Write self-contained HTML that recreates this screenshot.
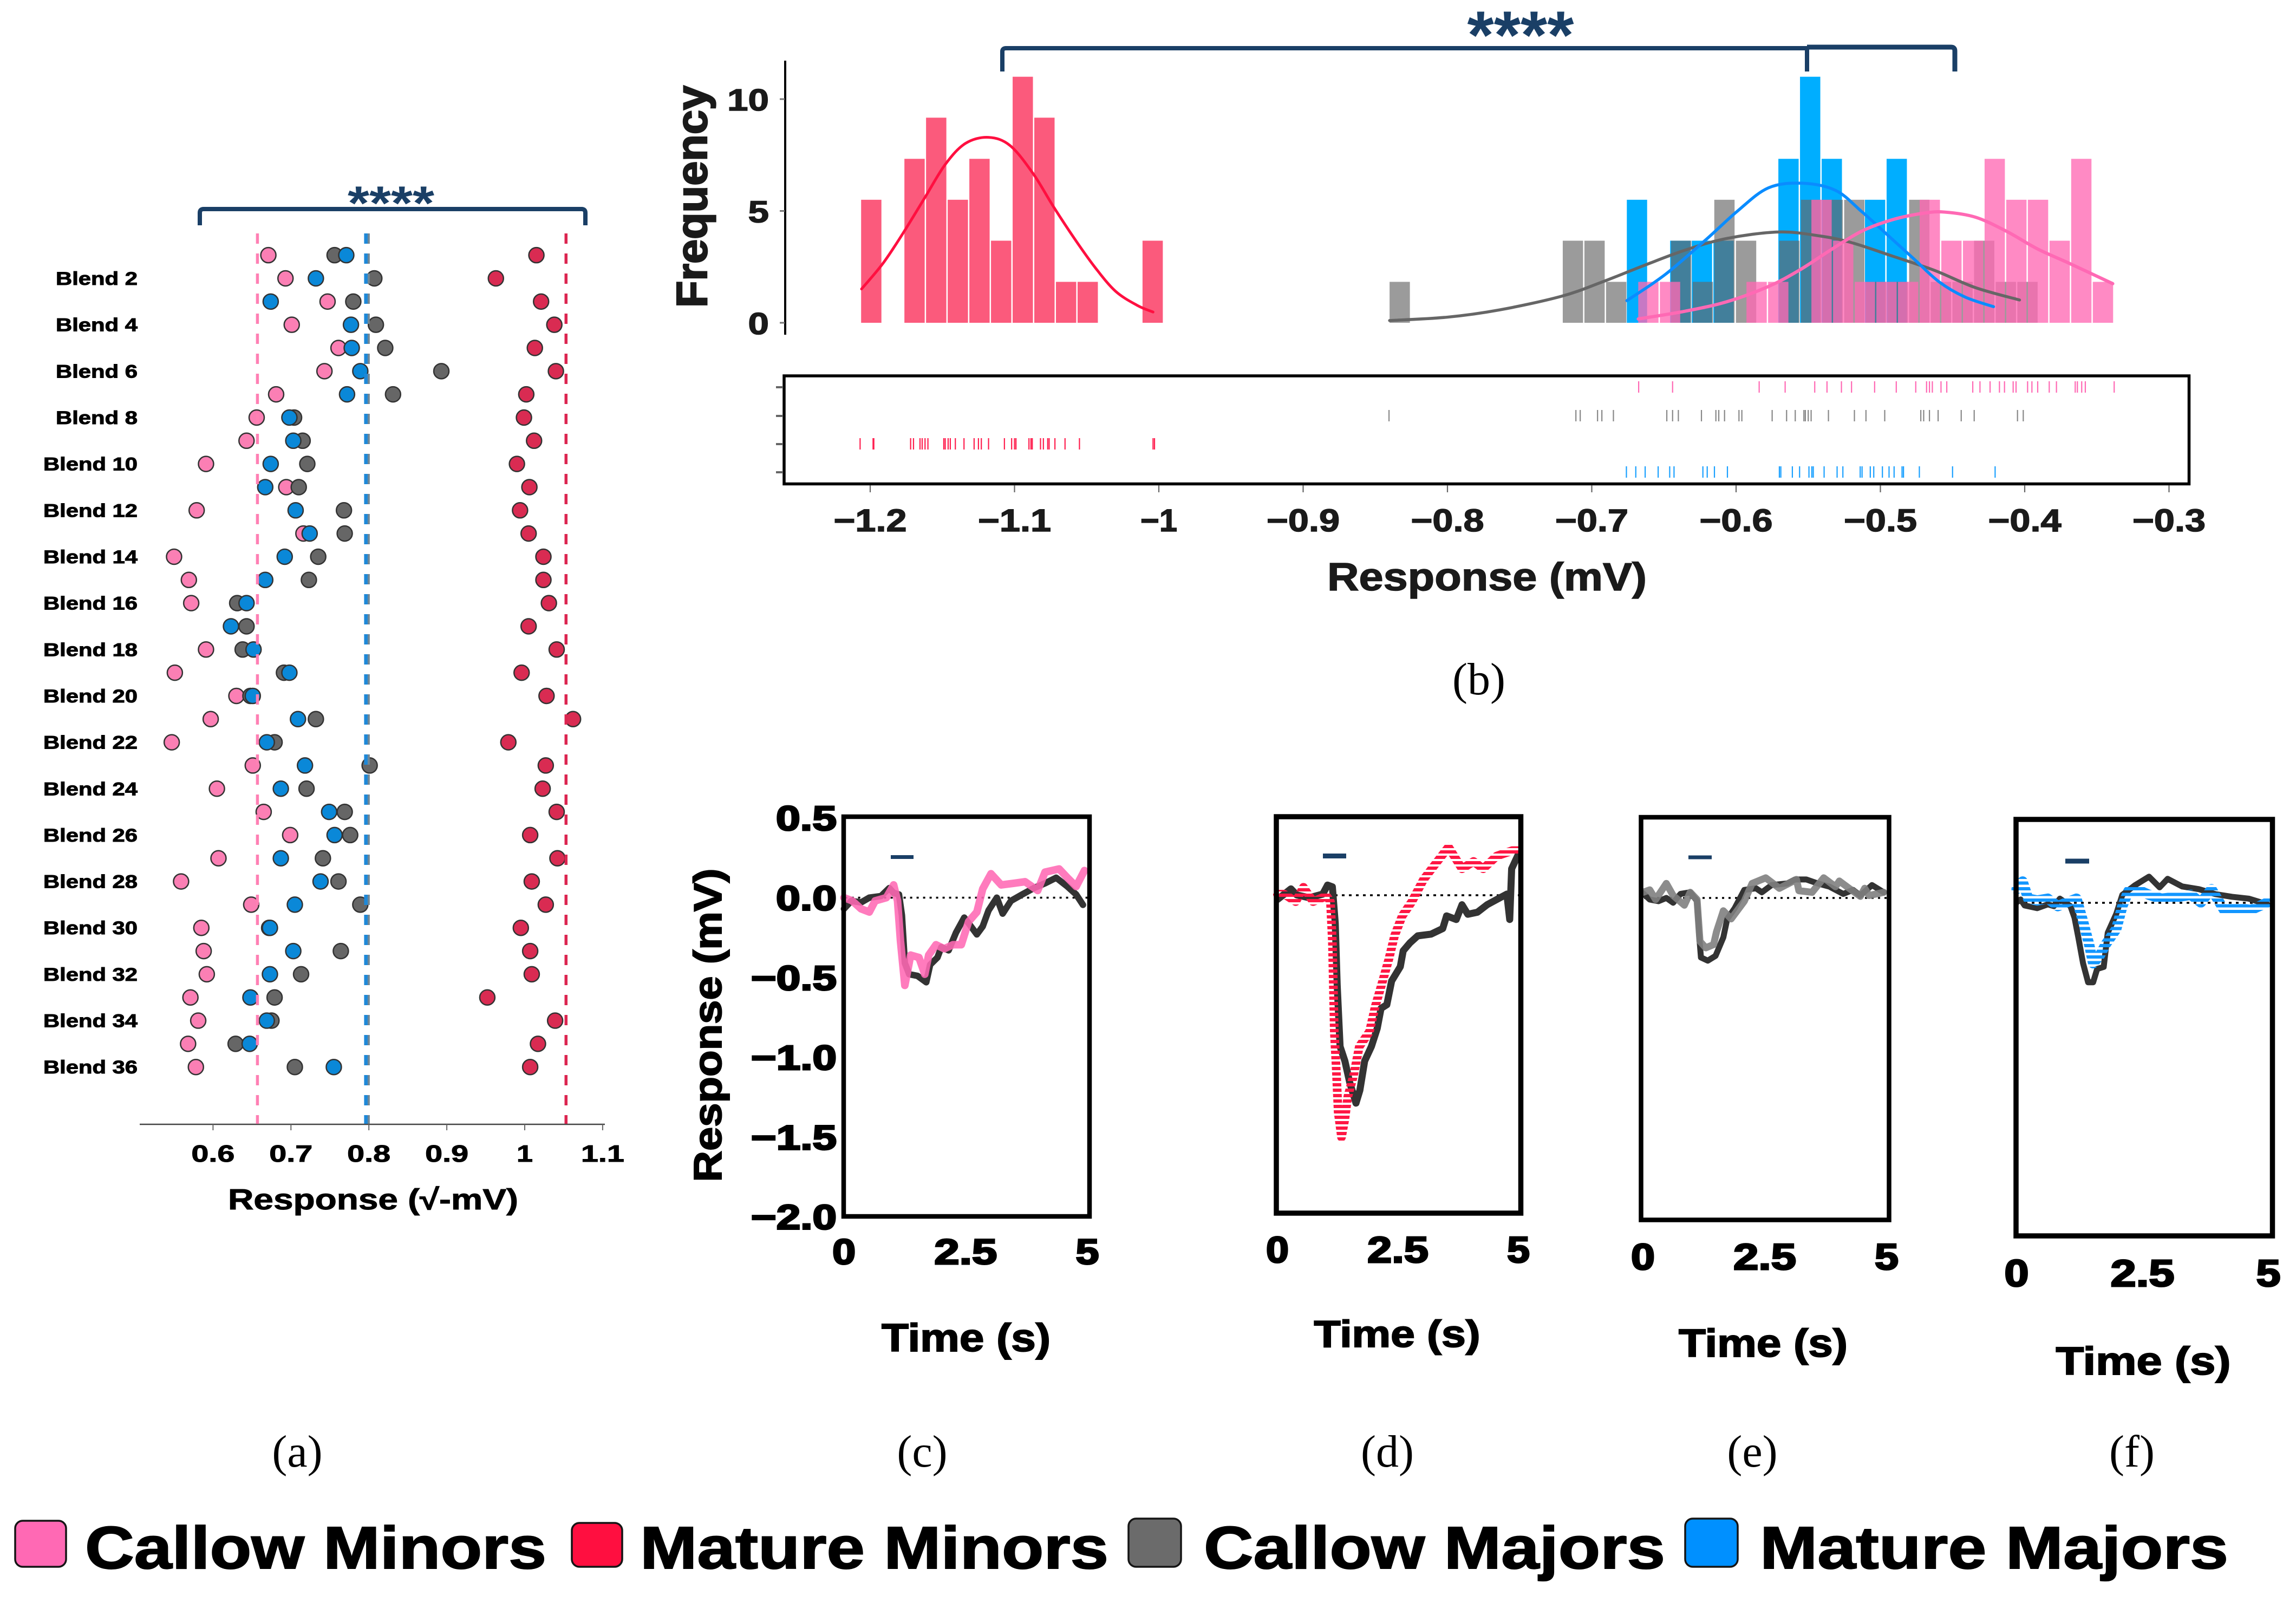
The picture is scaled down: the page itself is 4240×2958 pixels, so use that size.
<!DOCTYPE html>
<html lang="en">
<head>
<meta charset="utf-8">
<title>Response panels</title>
<style>
html,body{margin:0;padding:0;background:#fff;}
svg{display:block;}
text{font-family:"Liberation Sans",sans-serif;font-weight:bold;}
.serif{font-family:"Liberation Serif",serif;font-weight:normal;}
</style>
</head>
<body>
<svg id="fig" xmlns="http://www.w3.org/2000/svg" width="4240" height="2958" viewBox="0 0 4240 2958">
<defs>
<pattern id="stripes-red" patternUnits="userSpaceOnUse" width="10" height="10"><rect width="10" height="6" fill="#ff1744"/></pattern>
<pattern id="stripes-blue" patternUnits="userSpaceOnUse" width="10" height="10.5"><rect width="10" height="6" fill="#1296ff"/></pattern>
</defs>
<rect width="4240" height="2958" fill="#fff"/>
<g id="panel-a"></g>
<g id="panel-b"></g>
<g id="panel-c"></g>
<g id="panel-d"></g>
<g id="panel-e"></g>
<g id="panel-f"></g>

<path d="M369 416 L369 393 Q369 386 376 386 L1074 386 Q1081 386 1081 393 L1081 416" fill="none" stroke="#1a3f66" stroke-width="8"/>
<text x="722" y="405" font-size="88" text-anchor="middle" textLength="160" lengthAdjust="spacingAndGlyphs" fill="#1a3f66">****</text>
<text x="689" y="2233" font-size="54" text-anchor="middle" textLength="536" lengthAdjust="spacingAndGlyphs" fill="#000" stroke="#000" stroke-width="1">Response (√-mV)</text>

<path d="M1851 132 L1851 95 Q1851 89 1858 89 L3337 89 L3337 132" fill="none" stroke="#1a3f66" stroke-width="8"/>
<path d="M3337 87 L3603 87 Q3610 87 3610 94 L3610 132" fill="none" stroke="#1a3f66" stroke-width="9"/>
<text x="2808" y="108" font-size="125" text-anchor="middle" textLength="197" lengthAdjust="spacingAndGlyphs" fill="#1a3f66">****</text>
<text transform="translate(1305 363) rotate(-90)" font-size="80" text-anchor="middle" textLength="410" lengthAdjust="spacingAndGlyphs" fill="#1a1a1a" stroke="#1a1a1a" stroke-width="2.5">Frequency</text>
<text x="2746" y="1090" font-size="72" text-anchor="middle" textLength="590" lengthAdjust="spacingAndGlyphs" fill="#1a1a1a" stroke="#1a1a1a" stroke-width="1.5">Response (mV)</text>

<text transform="translate(1332 1893) rotate(-90)" font-size="72" text-anchor="middle" textLength="579" lengthAdjust="spacingAndGlyphs" fill="#000" stroke="#000" stroke-width="2">Response (mV)</text>
<text x="1784" y="2495" font-size="72" text-anchor="middle" textLength="312" lengthAdjust="spacingAndGlyphs" fill="#000" stroke="#000" stroke-width="2">Time (s)</text>
<text x="2580" y="2487" font-size="70" text-anchor="middle" textLength="307" lengthAdjust="spacingAndGlyphs" fill="#000" stroke="#000" stroke-width="2">Time (s)</text>
<text x="3256" y="2505" font-size="72" text-anchor="middle" textLength="312" lengthAdjust="spacingAndGlyphs" fill="#000" stroke="#000" stroke-width="2">Time (s)</text>
<text x="3958" y="2538" font-size="72" text-anchor="middle" textLength="323" lengthAdjust="spacingAndGlyphs" fill="#000" stroke="#000" stroke-width="2">Time (s)</text>

<text class="serif" x="549" y="2708" font-size="84" text-anchor="middle" fill="#000">(a)</text>
<text class="serif" x="2731" y="1282" font-size="84" text-anchor="middle" fill="#000">(b)</text>
<text class="serif" x="1703" y="2708" font-size="84" text-anchor="middle" fill="#000">(c)</text>
<text class="serif" x="2562" y="2708" font-size="84" text-anchor="middle" fill="#000">(d)</text>
<text class="serif" x="3236" y="2708" font-size="84" text-anchor="middle" fill="#000">(e)</text>
<text class="serif" x="3937" y="2708" font-size="84" text-anchor="middle" fill="#000">(f)</text>

<g>
<rect x="28" y="2808" width="94" height="85" rx="14" fill="#ff69b4" stroke="#151515" stroke-width="3.5"/>
<text x="157" y="2896" font-size="110" textLength="852" lengthAdjust="spacingAndGlyphs" fill="#000" stroke="#000" stroke-width="2">Callow Minors</text>
<rect x="1056" y="2812" width="93" height="81" rx="14" fill="#ff0f40" stroke="#151515" stroke-width="3.5"/>
<text x="1182" y="2896" font-size="110" textLength="865" lengthAdjust="spacingAndGlyphs" fill="#000" stroke="#000" stroke-width="2">Mature Minors</text>
<rect x="2084" y="2804" width="97" height="89" rx="14" fill="#6b6b6b" stroke="#151515" stroke-width="3.5"/>
<text x="2223" y="2896" font-size="110" textLength="852" lengthAdjust="spacingAndGlyphs" fill="#000" stroke="#000" stroke-width="2">Callow Majors</text>
<rect x="3112" y="2804" width="97" height="89" rx="14" fill="#0090ff" stroke="#151515" stroke-width="3.5"/>
<text x="3250" y="2896" font-size="110" textLength="865" lengthAdjust="spacingAndGlyphs" fill="#000" stroke="#000" stroke-width="2">Mature Majors</text>
</g>
</svg>

<script>
/* ---------- Panel a data ---------- */
const rowNumbers = [1,2,3,4,5,6,7,8,9,10,11,12,13,14,15,16,17,18,19,20,21,22,23,24,25,26,27,28,29,30,31,32,33,34,35,36];
const blendLabels = [2,4,6,8,10,12,14,16,18,20,22,24,26,28,30,32,34,36];
const aXTicks = [0.6,0.7,0.8,0.9,1,1.1];
const aCallowMinors = [.671,.693,.747,.701,.761,.743,.681,.656,.643,.591,.694,.579,.716,.550,.569,.572,null,.591,.551,.630,.597,.547,.651,.605,.665,.699,.607,.559,.649,.585,.588,.592,.571,.581,.568,.578];
const aCallowMajors = [.756,.807,.780,.809,.821,.893,.831,.704,.715,.721,.710,.768,.769,.735,.723,.631,.643,.638,.691,.648,.732,.679,.801,.720,.769,.776,.741,.761,.789,.672,.764,.713,.679,.675,.629,.705];
const aMatureMajors = [.771,.732,.674,.777,.778,.789,.772,.698,.703,.674,.667,.706,.724,.692,.667,.643,.623,.652,.698,.651,.709,.669,.718,.687,.749,.756,.687,.738,.705,.673,.703,.673,.648,.669,.647,.755];
const aMatureMinors = [1.015,.963,1.021,1.038,1.013,1.040,1.002,.999,1.012,.990,1.006,.994,1.005,1.024,1.024,1.031,1.005,1.041,.996,1.028,1.062,.979,1.027,1.023,1.041,1.007,1.042,1.009,1.027,.995,1.007,1.009,.952,1.039,1.017,1.007];
const aMeanCallowMinors = 0.657;
const aMeanMajors = 0.797;
const aMeanMatureMinors = 1.053;

/* ---------- Panel b data ---------- */
const bXTicks = [-1.2,-1.1,-1,-0.9,-0.8,-0.7,-0.6,-0.5,-0.4,-0.3];
const bXTickLabels = ["−1.2","−1.1","−1","−0.9","−0.8","−0.7","−0.6","−0.5","−0.4","−0.3"];
const bYTicks = [0,5,10];
const binWidth = 0.015;
const redBinStart = -1.2063;
const redHist = [5.5,0,7.33,9.17,5.5,7.33,3.67,11,9.17,1.83,1.83,0,0,3.67];
const grayBinStart = -0.8401;
const grayHist = [1.83,0,0,0,0,0,0,0,3.67,3.67,1.83,0,0,3.67,1.83,5.5,3.67,0,3.67,5.5,5.5,5.5,1.83,1.83,5.5,1.83,1.83,3.67,1.83,1.83];
const blueBinStart = -0.6757;
const blueHist = [5.5,0,3.67,3.67,3.67,0,0,7.33,11,7.33,0,5.5,7.33];
const pinkBinStart = -0.6678;
const pinkHist = [1.83,1.83,0,0,0,1.83,1.83,0,5.5,3.67,1.83,1.83,1.83,5.5,3.67,3.67,7.33,5.5,5.5,3.67,7.33,1.83];

const redCurveX = [-1.206,-1.191,-1.177,-1.162,-1.148,-1.134,-1.118,-1.103,-1.087,-1.073,-1.058,-1.044,-1.030,-1.015,-1.004];
const redCurveY = [1.51,2.67,4.03,5.61,7.08,8.02,8.29,7.92,6.66,5.19,3.72,2.46,1.41,.78,.48];
const blueCurveX = [-.6757,-.6495,-.6208,-.5993,-.5777,-.5544,-.5311,-.5131,-.4951,-.4772,-.4593,-.4413,-.4216];
const blueCurveY = [.99,2.14,3.72,4.98,6.03,6.24,5.92,4.98,3.93,2.88,1.83,1.15,.72];
const grayCurveX = [-.8401,-.8003,-.7644,-.7213,-.6926,-.6639,-.6352,-.6064,-.5705,-.5418,-.5203,-.4916,-.4628,-.4341,-.4036];
const grayCurveY = [.10,.25,.57,1.18,1.83,2.56,3.25,3.77,4.06,3.88,3.59,2.98,2.35,1.57,1.02];
const pinkCurveX = [-.6678,-.6352,-.6064,-.5777,-.5562,-.5346,-.5131,-.4916,-.4700,-.4557,-.4341,-.4126,-.3911,-.3695,-.3390];
const pinkCurveY = [.17,.52,.94,1.62,2.35,3.25,4.09,4.61,4.9,4.95,4.72,4.09,3.30,2.67,1.75];

const rugPink = [-.6675,-.644,-.584,-.566,-.5455,-.537,-.527,-.520,-.504,-.489,-.4755,-.468,-.466,-.464,-.458,-.454,-.436,-.431,-.424,-.4175,-.414,-.408,-.406,-.398,-.395,-.391,-.383,-.378,-.365,-.3635,-.3605,-.358,-.338];
const rugGray = [-.8405,-.711,-.708,-.696,-.693,-.685,-.648,-.644,-.640,-.624,-.614,-.612,-.608,-.598,-.596,-.575,-.565,-.559,-.553,-.552,-.550,-.548,-.536,-.518,-.510,-.497,-.472,-.470,-.466,-.460,-.444,-.435,-.405,-.401];
const rugRed = [-1.207,-1.198,-1.1975,-1.172,-1.170,-1.1655,-1.164,-1.162,-1.160,-1.149,-1.148,-1.146,-1.1445,-1.141,-1.135,-1.128,-1.125,-1.123,-1.118,-1.107,-1.102,-1.100,-1.099,-1.090,-1.0886,-1.0877,-1.082,-1.080,-1.077,-1.076,-1.072,-1.065,-1.055,-1.004,-1.003];
const rugBlue = [-.676,-.6695,-.663,-.654,-.646,-.643,-.623,-.620,-.615,-.606,-.570,-.569,-.561,-.556,-.5495,-.5475,-.5465,-.539,-.530,-.526,-.514,-.5127,-.507,-.5046,-.4986,-.494,-.4905,-.485,-.484,-.473,-.450,-.4205];

/* ---------- Trace panels data ---------- */
const traceYTicks = [0.5,0,-0.5,-1,-1.5,-2];
const traceYTickLabels = ["0.5","0.0","−0.5","−1.0","−1.5","−2.0"];
const traceXTicks = [0,2.5,5];
const traceXTickLabels = ["0","2.5","5"];

const cDarkT = [0,.15,.35,.52,.76,.93,1.02,1.13,1.19,1.25,1.34,1.51,1.69,1.77,1.92,2.0,2.15,2.30,2.47,2.56,2.73,2.85,2.97,3.14,3.26,3.43,3.66,3.90,4.13,4.36,4.59,4.77,4.91];
const cDarkV = [-.07,-.02,-.03,0,.01,.06,.03,.02,-.11,-.41,-.48,-.49,-.53,-.42,-.375,-.31,-.33,-.22,-.125,-.16,-.23,-.18,-.08,0,-.10,-.02,.02,.06,.09,.125,.07,.02,-.045];
const cPinkT = [0,.17,.35,.52,.64,.87,1.02,1.10,1.16,1.25,1.37,1.54,1.66,1.74,1.89,2.06,2.24,2.41,2.56,2.73,2.85,3.02,3.23,3.49,3.72,3.98,4.13,4.42,4.59,4.77,4.94];
const cPinkV = [0,-.02,-.07,-.09,-.02,0,.08,-.02,-.27,-.55,-.36,-.375,-.48,-.36,-.295,-.32,-.295,-.295,-.15,-.09,.055,.15,.08,.09,.10,.045,.16,.18,.125,.07,.17];

const dDarkT = [0,.28,.40,.66,.94,1.04,1.14,1.20,1.24,1.30,1.40,1.50,1.63,1.71,1.81,1.95,2.07,2.15,2.27,2.37,2.55,2.61,2.75,2.91,3.19,3.43,3.51,3.71,3.83,3.95,4.15,4.35,4.55,4.76,4.82,4.86,5.0];
const dDarkV = [-.027,.04,.002,-.016,.007,.064,.053,-.176,-.565,-.953,-1.045,-1.18,-1.31,-1.23,-1.045,-.953,-.84,-.713,-.69,-.54,-.45,-.35,-.30,-.256,-.245,-.21,-.13,-.153,-.06,-.12,-.107,-.06,-.027,.007,-.153,.167,.258];
const dRedT = [0,.14,.38,.54,.74,1.02,1.10,1.14,1.16,1.18,1.22,1.26,1.33,1.40,1.46,1.58,1.70,1.91,2.03,2.15,2.31,2.43,2.59,2.79,3.03,3.23,3.55,3.83,4.07,4.27,4.55,4.87,5.0];
const dRedV = [.007,.007,-.04,.05,-.04,-.005,-.04,-.29,-.565,-.86,-1.09,-1.365,-1.525,-1.41,-1.27,-1.136,-.953,-.86,-.70,-.576,-.405,-.256,-.13,-.04,.098,.178,.304,.167,.213,.167,.247,.281,.281];

const eDarkT = [0,.14,.32,.48,.62,.77,.97,1.11,1.15,1.19,1.33,1.49,1.65,1.73,1.88,2.08,2.32,2.44,2.64,2.96,3.12,3.35,3.59,3.83,4.11,4.31,4.46,4.70,4.94];
const eDarkV = [.03,-.01,-.02,0,-.03,.025,.035,-.02,-.22,-.37,-.39,-.36,-.245,-.13,-.065,.05,.06,.035,.08,.09,.115,.115,.09,.07,.025,.05,.015,.08,.035];
const eGrayT = [0,.14,.26,.48,.62,.85,.97,1.11,1.17,1.29,1.45,1.51,1.65,1.81,2.08,2.24,2.52,2.80,3.15,3.20,3.47,3.71,3.95,4.03,4.23,4.46,4.55,4.64,4.94];
const eGrayV = [.035,.05,-.01,.09,.015,-.045,.035,-.01,-.27,-.31,-.29,-.21,-.08,-.13,-.02,.09,.125,.06,.115,.045,.035,.125,.07,.105,.06,.01,.06,.015,.035];

const fDarkT = [0,.08,.16,.41,.62,.74,.86,1.07,1.15,1.23,1.32,1.42,1.52,1.60,1.73,1.81,1.98,2.10,2.35,2.63,2.84,3.0,3.29,3.62,3.95,4.28,4.61,4.98];
const fDarkV = [.002,.02,-.016,-.032,-.009,-.02,.025,-.02,-.089,-.214,-.363,-.477,-.477,-.397,-.385,-.18,-.066,.048,.105,.157,.093,.144,.098,.082,.052,.036,.025,-.009];
const fBlueT = [0,.12,.23,.41,.62,.82,.99,1.19,1.32,1.44,1.52,1.65,1.77,1.98,2.10,2.22,2.47,2.63,2.88,3.21,3.46,3.66,3.87,4.12,4.36,4.65,4.98];
const fBlueV = [.082,.128,.025,.014,.025,-.02,.002,.025,-.112,-.249,-.363,-.317,-.249,-.157,-.02,.07,.07,.048,.025,.036,.048,.002,.082,-.043,-.032,-.043,.002];

/* ---------- Helpers ---------- */
const NS = 'http://www.w3.org/2000/svg';
function mk(parent, tag, props, txt){
  const el = document.createElementNS(NS, tag);
  for (const k in props) el.setAttribute(k, props[k]);
  if (txt !== undefined) el.textContent = txt;
  parent.appendChild(el);
  return el;
}
function smoothPath(px, py){
  let d = 'M' + px[0] + ' ' + py[0];
  for (let i = 0; i < px.length - 1; i++){
    const x0 = px[Math.max(i-1,0)], y0 = py[Math.max(i-1,0)];
    const x1 = px[i], y1 = py[i], x2 = px[i+1], y2 = py[i+1];
    const x3 = px[Math.min(i+2,px.length-1)], y3 = py[Math.min(i+2,py.length-1)];
    d += ' C' + (x1+(x2-x0)/6) + ' ' + (y1+(y2-y0)/6) + ' ' + (x2-(x3-x1)/6) + ' ' + (y2-(y3-y1)/6) + ' ' + x2 + ' ' + y2;
  }
  return d;
}

/* ---------- Panel a ---------- */
(function(){
  const g = document.getElementById('panel-a');
  const ax = v => 393.4 + (v - 0.6) * 1439;
  const ay = n => 514 + (n - 2) * 42.83;

  const axis = mk(g,'line',{x1:258,x2:1117,y1:2076,y2:2076,stroke:'#444','stroke-width':2.5});
  
  

  aXTicks.forEach(v => {
    const t = mk(g,'line',{x1:ax(v),x2:ax(v),y1:2076,y2:2087,stroke:'#666','stroke-width':2});
    
    
    const label = String(v);
    const l = mk(g,'text',{x:ax(v),y:2145,'font-size':44,'text-anchor':'middle',textLength:label.length>1?80:30,lengthAdjust:'spacingAndGlyphs',fill:'#000',stroke:'#000','stroke-width':1},label);
    
    
  });

  blendLabels.forEach(n => {
    const s = 'Blend ' + n;
    const l = mk(g,'text',{x:254,y:ay(n)+12,'font-size':34,'text-anchor':'end',textLength:n<10?151:174,lengthAdjust:'spacingAndGlyphs',fill:'#000',stroke:'#000','stroke-width':1},s);
    
    
  });

  const series = [
    {vals:aCallowMinors, fill:'#fb7fb4', name:'dot-callow-minors'},
    {vals:aCallowMajors, fill:'#666666', name:'dot-callow-majors'},
    {vals:aMatureMajors, fill:'#0a88d8', name:'dot-mature-majors'},
    {vals:aMatureMinors, fill:'#d92b52', name:'dot-mature-minors'}
  ];
  series.forEach(s => {
    rowNumbers.forEach((n,i) => {
      if (s.vals[i] === null) return;
      const c = mk(g,'circle',{cx:ax(s.vals[i]),cy:ay(n),r:14,fill:s.fill,stroke:'#333','stroke-width':2.5});
      
      
    });
  });

  const dash = {'stroke-dasharray':'19 18'};
  const m1 = mk(g,'line',Object.assign({x1:ax(aMeanCallowMinors),x2:ax(aMeanCallowMinors),y1:431,y2:2075,stroke:'#ff80b4','stroke-width':5.5},dash));
  
  
  const m2 = mk(g,'line',Object.assign({x1:ax(aMeanMajors)-1,x2:ax(aMeanMajors)-1,y1:431,y2:2075,stroke:'#1e88d8','stroke-width':7},dash));
  
  
  const m3 = mk(g,'line',Object.assign({x1:ax(aMeanMajors)+4,x2:ax(aMeanMajors)+4,y1:431,y2:2075,stroke:'#6f8796','stroke-width':4},dash));
  
  
  const m4 = mk(g,'line',Object.assign({x1:ax(aMeanMatureMinors),x2:ax(aMeanMatureMinors),y1:431,y2:2075,stroke:'#dc2550','stroke-width':5.5},dash));
  
  
})();

/* ---------- Panel b ---------- */
(function(){
  const g = document.getElementById('panel-b');
  const bx = v => 1607 + (v + 1.2) * 2665;
  const by = f => 596 - f * 41.3;

  const yAxis = mk(g,'line',{x1:1450,x2:1450,y1:112,y2:618,stroke:'#000','stroke-width':4});
  
  

  bYTicks.forEach(v => {
    const t = mk(g,'line',{x1:1440,x2:1449,y1:by(v),y2:by(v),stroke:'#777','stroke-width':3});
    
    
    const s = String(v);
    const l = mk(g,'text',{x:1420,y:by(v)+21,'font-size':57,'text-anchor':'end',textLength:s.length*38.5,lengthAdjust:'spacingAndGlyphs',fill:'#1a1a1a',stroke:'#1a1a1a','stroke-width':1.5},s);
    
    
  });

  function bars(vals, start, fill, name){
    vals.forEach((f,i) => {
      if (!f) return;
      const x0 = bx(start + i * binWidth);
      const r = mk(g,'rect',{x:x0,y:by(f),width:binWidth*2665-2.5,height:by(0)-by(f),fill:fill});
      
      
    });
  }
  bars(redHist, redBinStart, '#fb5a7c', 'hist-bar-mature-minors');
  bars(blueHist, blueBinStart, '#00aeff', 'hist-bar-mature-majors');
  bars(grayHist, grayBinStart, 'rgba(102,102,102,.65)', 'hist-bar-callow-majors');
  bars(pinkHist, pinkBinStart, 'rgba(255,105,180,.78)', 'hist-bar-callow-minors');

  function curve(xs, ys, color, w, name){
    const p = mk(g,'path',{d:smoothPath(xs.map(bx),ys.map(by)),fill:'none',stroke:color,'stroke-width':w,'stroke-linecap':'round'});
    
    
  }
  curve(redCurveX, redCurveY, '#ff0f40', 5, 'fit-curve-mature-minors');
  curve(grayCurveX, grayCurveY, '#666666', 5.5, 'fit-curve-callow-majors');
  curve(blueCurveX, blueCurveY, '#0a8cff', 5.5, 'fit-curve-mature-majors');
  curve(pinkCurveX, pinkCurveY, '#ff69b4', 6, 'fit-curve-callow-minors');

  const box = mk(g,'rect',{x:1448,y:694,width:2594.5,height:199.5,fill:'none',stroke:'#000','stroke-width':5.5});
  
  

  const rugRows = [
    {vals:rugPink, color:'#ff69b4', top:704, name:'rug-mark-callow-minors'},
    {vals:rugGray, color:'#888888', top:757, name:'rug-mark-callow-majors'},
    {vals:rugRed, color:'#ff1f4f', top:809, name:'rug-mark-mature-minors'},
    {vals:rugBlue, color:'#1aa0ff', top:861, name:'rug-mark-mature-majors'}
  ];
  rugRows.forEach(row => {
    const rt = mk(g,'line',{x1:1433,x2:1446,y1:row.top+11,y2:row.top+11,stroke:'#666','stroke-width':4});
    
    
    row.vals.forEach(v => {
      const m = mk(g,'line',{x1:bx(v),x2:bx(v),y1:row.top,y2:row.top+21,stroke:row.color,'stroke-width':2.2});
      
      
    });
  });

  bXTicks.forEach((v,i) => {
    const t = mk(g,'line',{x1:bx(v),x2:bx(v),y1:896,y2:909,stroke:'#666','stroke-width':2.2});
    
    
    const s = bXTickLabels[i];
    const l = mk(g,'text',{x:bx(v),y:981,'font-size':58,'text-anchor':'middle',textLength:s.length>2?135:68,lengthAdjust:'spacingAndGlyphs',fill:'#1a1a1a',stroke:'#1a1a1a','stroke-width':1.5},s);
    
    
  });
})();

/* ---------- Trace panels ---------- */
function tracePanel(cfg){
  const g = document.getElementById(cfg.id);
  const tx = t => cfg.x0 + t * (cfg.x5 - cfg.x0) / 5;
  const vy = v => cfg.y0 - v * cfg.unit;

  const dotted = mk(g,'line',{x1:tx(0)+2,x2:tx(5),y1:vy(0),y2:vy(0),stroke:'#000','stroke-width':3.5,'stroke-dasharray':cfg.dots});
  
  

  cfg.traces.forEach(tr => {
    const pts = tr.t.map((t,i) => tx(t) + ',' + vy(tr.v[i])).join(' ');
    const p = mk(g,'polyline',{points:pts,fill:'none',stroke:tr.color,'stroke-width':tr.w,'stroke-linejoin':'round','stroke-linecap':'round',opacity:tr.op||1});
    
    
  });

  const frame = mk(g,'rect',{x:cfg.fx,y:cfg.fy,width:cfg.fw,height:cfg.fh,fill:'none',stroke:'#000','stroke-width':cfg.fs});
  
  

  const stim = mk(g,'rect',{x:cfg.sx,y:cfg.sy-cfg.sh/2,width:cfg.sw,height:cfg.sh,fill:'#1a3f66'});
  
  

  traceXTicks.forEach((t,i) => {
    const s = traceXTickLabels[i];
    const l = mk(g,'text',{x:tx(t),y:cfg.xb,'font-size':cfg.xf,'text-anchor':'middle',textLength:s.length>1?cfg.xw2:cfg.xw1,lengthAdjust:'spacingAndGlyphs',fill:'#000',stroke:'#000','stroke-width':3},s);
    
    
  });

  if (cfg.yLabels){
    traceYTicks.forEach((v,i) => {
      const s = traceYTickLabels[i];
      const l = mk(g,'text',{x:1545,y:vy(v)+23,'font-size':64,'text-anchor':'end',textLength:s.length>3?158:112,lengthAdjust:'spacingAndGlyphs',fill:'#000',stroke:'#000','stroke-width':3},s);
      
      
    });
  }
}

tracePanel({id:'panel-c',x0:1558.6,x5:2008,y0:1657.5,unit:294.6,dots:'4 8',
  fx:1558,fy:1508,fw:454,fh:738,fs:8.5,sx:1645,sy:1582.5,sw:42,sh:7,
  xb:2334,xf:66,xw1:43,xw2:116,yLabels:true,
  traces:[
    {t:cDarkT,v:cDarkV,color:'#333333',w:12,name:'trace-control-c'},
    {t:cPinkT,v:cPinkV,color:'#ff69b4',w:14,op:.88,name:'trace-callow-minors'}
  ]});
tracePanel({id:'panel-d',x0:2359,x5:2804,y0:1653,unit:293,dots:'5 8',
  fx:2357,fy:1508,fw:451.5,fh:732,fs:9.5,sx:2443,sy:1580.5,sw:43,sh:9,
  xb:2331,xf:68,xw1:42,xw2:113,yLabels:false,
  traces:[
    {t:dDarkT,v:dDarkV,color:'#333333',w:13,name:'trace-control-d'},
    {t:dRedT,v:dRedV,color:'url(#stripes-red)',w:16,name:'trace-mature-minors'}
  ]});
tracePanel({id:'panel-e',x0:3034,x5:3484,y0:1658,unit:297,dots:'4 8',
  fx:3030.5,fy:1509,fw:458,fh:743.5,fs:8.5,sx:3118,sy:1583,sw:43,sh:7,
  xb:2344,xf:68,xw1:44,xw2:116,yLabels:false,
  traces:[
    {t:eDarkT,v:eDarkV,color:'#333333',w:11,name:'trace-control-e'},
    {t:eGrayT,v:eGrayV,color:'#7f7f7f',w:13,op:.9,name:'trace-callow-majors'}
  ]});
tracePanel({id:'panel-f',x0:3724,x5:4189,y0:1667,unit:307.6,dots:'5 8',
  fx:3723,fy:1513,fw:473.5,fh:769,fs:9.5,sx:3814,sy:1590,sw:44,sh:9,
  xb:2375,xf:70,xw1:45,xw2:118,yLabels:false,
  traces:[
    {t:fDarkT,v:fDarkV,color:'#333333',w:11,name:'trace-control-f'},
    {t:fBlueT,v:fBlueV,color:'url(#stripes-blue)',w:19,name:'trace-mature-majors'}
  ]});
</script>
</body>
</html>
